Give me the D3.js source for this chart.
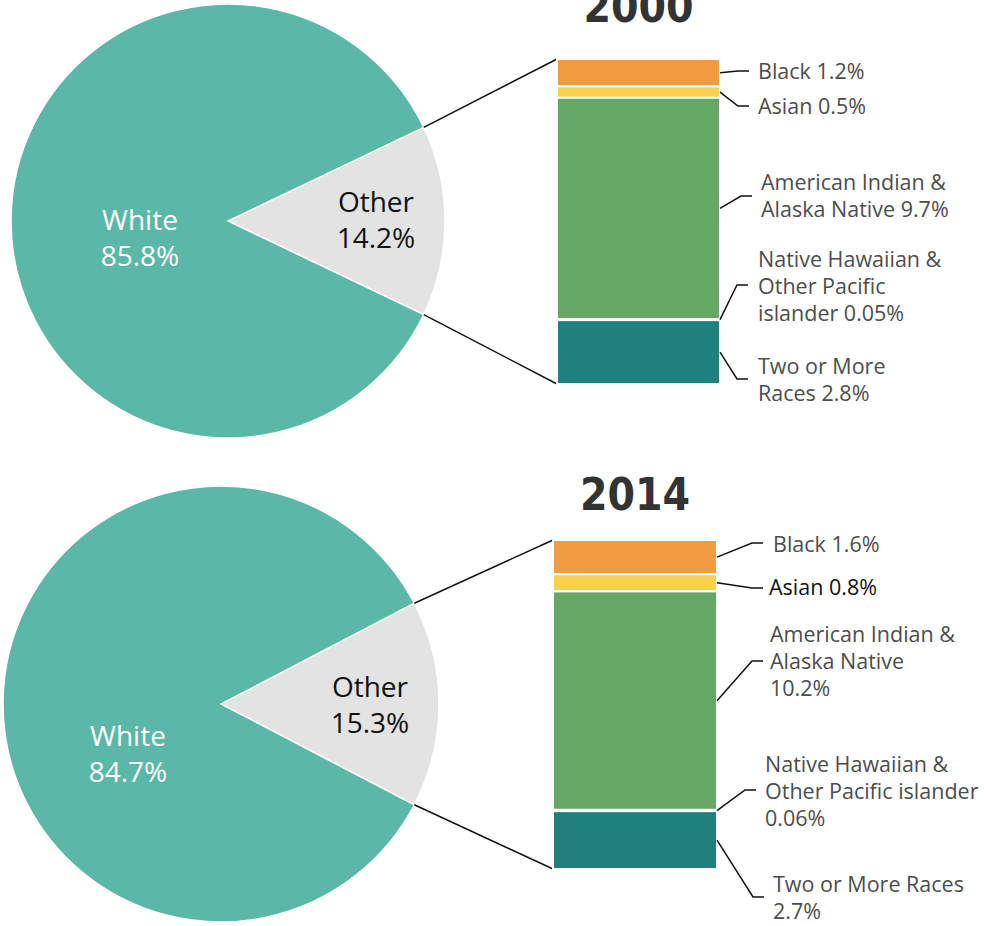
<!DOCTYPE html>
<html>
<head>
<meta charset="utf-8">
<script src="https://cdn.jsdelivr.net/npm/d3@7"></script>
<style>
  body { margin: 0; background: #fff; }
  svg { display: block; }
  .lbl { font-family: "Open Sans", Roboto, sans-serif; font-size: 21.5px; fill: #4d4d4d; }
  .pielbl { font-family: "Open Sans", Roboto, sans-serif; font-size: 28px; text-anchor: middle; }
  .title { font-family: "DejaVu Sans Condensed", Roboto, sans-serif; font-weight: bold; font-size: 44px; fill: #333; text-anchor: middle; }
</style>
</head>
<body>
<svg id="chart" width="984" height="926"></svg>
<script>
// data
let years = ["2000", "2014"]
let whiteShare = [85.8, 84.7]
let otherShare = [14.2, 15.3]
let categories = ["Black", "Asian", "American Indian & Alaska Native",
  "Native Hawaiian & Other Pacific islander", "Two or More Races"]
let values2000 = [1.2, 0.5, 9.7, 0.05, 2.8]
let values2014 = [1.6, 0.8, 10.2, 0.06, 2.7]
// how the labels wrap in each panel
let labels2000 = [["Black 1.2%"], ["Asian 0.5%"], ["American Indian &", "Alaska Native 9.7%"],
  ["Native Hawaiian &", "Other Pacific", "islander 0.05%"], ["Two or More", "Races 2.8%"]]
let labels2014 = [["Black 1.6%"], ["Asian 0.8%"], ["American Indian &", "Alaska Native", "10.2%"],
  ["Native Hawaiian &", "Other Pacific islander", "0.06%"], ["Two or More Races", "2.7%"]]

let colors = ["#f29b40", "#fad04e", "#65a764", "#65a764", "#1f807e"]

// layout for each panel
let panels = [
  {values: values2000, labels: labels2000, cx: 228, cy: 221, r: 217,
   barX: 557, barW: 163, barTop: 59, barBottom: 384, titleY: 22,
   whiteLbl: [140, 230], otherLbl: [376, 212],
   elbowX: [738, 738, 741, 737, 737], elbowY: [71, 106, 196, 285, 379],
   textX: [758, 758, 761, 758, 758], textY: [79, 114, 190, 267, 374]},
  {values: values2014, labels: labels2014, cx: 221, cy: 704, r: 218,
   barX: 553, barW: 164, barTop: 540, barBottom: 869, titleY: 510,
   whiteLbl: [128, 746], otherLbl: [370, 697],
   elbowX: [752, 752, 752, 745, 753], elbowY: [543, 588, 661, 790, 897],
   textX: [773, 769, 770, 765, 773], textY: [552, 595, 642, 772, 892]}
]

let svg = d3.select("#chart")
let lineH = 27

panels.forEach((p, i) => {
  let g = svg.append("g")
  let other = otherShare[i], white = whiteShare[i]
  let otherAngle = 2 * Math.PI * other / 100

  let pie = d3.pie().sort(null).value(d => d.v)
    .startAngle(Math.PI / 2 - otherAngle / 2)
    .endAngle(Math.PI / 2 - otherAngle / 2 + 2 * Math.PI)
  let arcs = pie([{k: "other", v: other}, {k: "white", v: white}])
  let arc = d3.arc().innerRadius(0).outerRadius(p.r)

  g.append("g").attr("transform", `translate(${p.cx},${p.cy})`)
    .selectAll("path").data(arcs).enter().append("path")
    .attr("d", arc)
    .attr("fill", d => d.data.k == "other" ? "#e3e3e3" : "#5bb8a6")
    .attr("stroke", "#fff").attr("stroke-width", 1.5)

  // connector lines from the slice edge to the bar
  let a0 = arcs[0].startAngle, a1 = arcs[0].endAngle
  let pt = a => [p.cx + p.r * Math.sin(a), p.cy - p.r * Math.cos(a)]
  let conn = [[pt(a0), [p.barX, p.barTop]], [pt(a1), [p.barX, p.barBottom]]]
  g.selectAll("line.conn").data(conn).enter().append("line")
    .attr("class", "conn")
    .attr("x1", d => d[0][0]).attr("y1", d => d[0][1])
    .attr("x2", d => d[1][0]).attr("y2", d => d[1][1])
    .attr("stroke", "#111").attr("stroke-width", 1.5)

  // stacked bar
  let total = d3.sum(p.values)
  let y = d3.scaleLinear().domain([0, total]).range([p.barTop, p.barBottom])
  let cum = d3.cumsum(p.values)
  let segs = p.values.map((v, j) => ({v: v, y0: cum[j] - v, y1: cum[j], j: j}))

  g.selectAll("rect.seg").data(segs).enter().append("rect")
    .attr("class", "seg")
    .attr("x", p.barX).attr("width", p.barW)
    .attr("y", d => y(d.y0)).attr("height", d => y(d.y1) - y(d.y0))
    .attr("fill", d => colors[d.j])
    .attr("stroke", "#fff").attr("stroke-width", 2)

  // leader lines
  let barRight = p.barX + p.barW
  g.selectAll("polyline").data(segs).enter().append("polyline")
    .attr("points", d => {
      let ym = (y(d.y0) + y(d.y1)) / 2
      let ex = p.elbowX[d.j], ey = p.elbowY[d.j]
      return [[barRight, ym], [ex, ey], [ex + 11, ey]].join(" ")
    })
    .attr("fill", "none").attr("stroke", "#111").attr("stroke-width", 1.5)

  // segment labels
  segs.forEach(d => {
    let t = g.append("text").attr("class", "lbl")
      .attr("x", p.textX[d.j]).attr("y", p.textY[d.j])
    if (i == 1 && d.j == 1) t.style("fill", "#111")
    p.labels[d.j].forEach((line, k) => {
      t.append("tspan").attr("x", p.textX[d.j]).attr("dy", k == 0 ? 0 : lineH).text(line)
    })
  })

  // pie labels
  g.append("text").attr("class", "pielbl").attr("fill", "#fff")
    .attr("x", p.whiteLbl[0]).attr("y", p.whiteLbl[1])
    .selectAll("tspan").data(["White", white.toFixed(1) + "%"]).enter().append("tspan")
    .attr("x", p.whiteLbl[0]).attr("dy", (d, k) => k == 0 ? 0 : 36).text(d => d)
  g.append("text").attr("class", "pielbl").attr("fill", "#111")
    .attr("x", p.otherLbl[0]).attr("y", p.otherLbl[1])
    .selectAll("tspan").data(["Other", other.toFixed(1) + "%"]).enter().append("tspan")
    .attr("x", p.otherLbl[0]).attr("dy", (d, k) => k == 0 ? 0 : 36).text(d => d)

  // year title
  g.append("text").attr("class", "title")
    .attr("x", p.barX + p.barW / 2).attr("y", p.titleY).text(years[i])
})
</script>
</body>
</html>
